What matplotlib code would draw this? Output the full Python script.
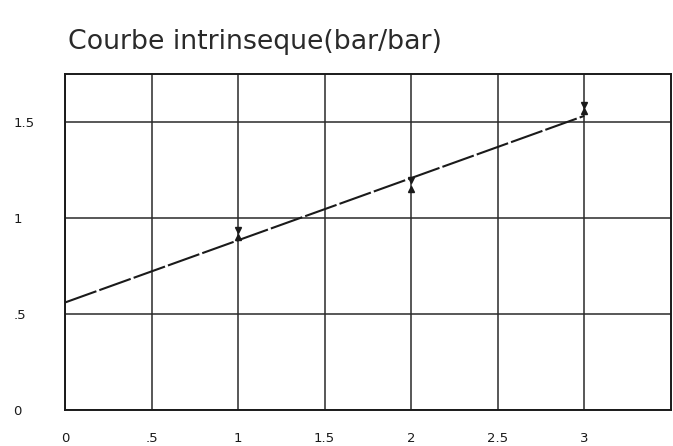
import matplotlib

matplotlib.use("Agg")
import matplotlib.pyplot as plt
import numpy as np

# straight-line fit of the intrinsic curve: tau = c + tan(phi) * sigma
fit_intercept = 0.56
fit_slope = 0.324
fit_x = [0.0, 3.0]

# measured points (upper and lower readings at each normal stress)
sigma = [1.0, 2.0, 3.0]
tau_upper = [0.94, 1.20, 1.59]
tau_lower = [0.90, 1.15, 1.56]

x_ticks = [0, 0.5, 1, 1.5, 2, 2.5, 3]
x_labels = ["0", ".5", "1", "1.5", "2", "2.5", "3"]
y_ticks = [0, 0.5, 1, 1.5]
y_labels = ["0", ".5", "1", "1.5"]

ink = "#1a1a1a"

fig = plt.figure(figsize=(6.73, 4.46), dpi=100)
ax = fig.add_axes([0.0966, 0.0807, 0.9, 0.7533])

ax.set_xlim(0, 3.5)
ax.set_ylim(0, 1.75)

ax.set_xticks(x_ticks)
ax.set_xticklabels(x_labels)
ax.set_yticks(y_ticks)
ax.set_yticklabels(y_labels, ha="left")
ax.tick_params(axis="both", length=0, labelsize=9.5, colors=ink)
ax.tick_params(axis="x", pad=16)
ax.tick_params(axis="y", pad=37)

ax.grid(True, color="#2a2a2a", linewidth=1.1)
ax.set_axisbelow(True)
for spine in ax.spines.values():
    spine.set_color(ink)
    spine.set_linewidth(1.4)

line_y = [fit_intercept + fit_slope * x for x in fit_x]
ax.plot(fit_x, line_y, color=ink, linewidth=1.5, dashes=(16, 1.5), zorder=3)

ax.plot(sigma, tau_upper, linestyle="none", marker="v", markersize=5,
        color=ink, zorder=4)
ax.plot(sigma, tau_lower, linestyle="none", marker="^", markersize=5,
        color=ink, zorder=4)

fig.text(0.101, 0.906, "Courbe intrinseque(bar/bar)", fontsize=19.3,
         color="#2a2a2a", ha="left", va="center")

fig.savefig("out.png", dpi=100)
